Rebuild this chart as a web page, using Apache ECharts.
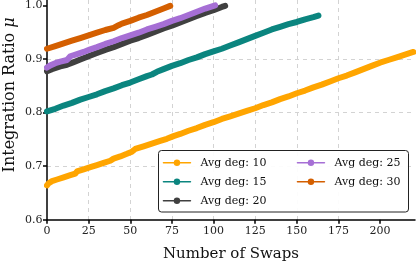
<!DOCTYPE html>
<html>
<head>
<meta charset="utf-8">
<script src="https://cdn.jsdelivr.net/npm/echarts@6/dist/echarts.min.js"></script>
<style>html,body{margin:0;padding:0;background:#fff;}#c{width:416px;height:262px;}</style>
</head>
<body>
<div id="c"></div>
<script>
// ---- data ----
const seriesNames = ['Avg deg: 10', 'Avg deg: 15', 'Avg deg: 20', 'Avg deg: 25', 'Avg deg: 30'];
const swaps10 = [0,1,3,6,10,14,17,18,22,26,30,34,38,40,44,48,51,53,58,63,68,72,76,80,85,90,95,100,105,110,115,120,125,130,135,140,145,150,155,160,165,170,175,180,185,190,195,200,205,210,215,220];
const ratio10 = [0.664,0.668,0.672,0.675,0.679,0.683,0.686,0.690,0.694,0.698,0.702,0.706,0.710,0.714,0.718,0.723,0.727,0.732,0.737,0.742,0.747,0.751,0.756,0.760,0.766,0.771,0.777,0.782,0.788,0.793,0.798,0.803,0.808,0.814,0.819,0.825,0.830,0.836,0.841,0.847,0.852,0.858,0.864,0.869,0.875,0.881,0.887,0.893,0.898,0.903,0.908,0.913];
const swaps15 = [0,5,10,15,20,25,30,35,40,45,50,55,60,63,66,70,75,80,85,90,95,100,105,110,115,120,125,130,135,140,145,150,155,160,163];
const ratio15 = [0.802,0.807,0.813,0.818,0.824,0.829,0.834,0.840,0.845,0.851,0.856,0.862,0.868,0.871,0.876,0.881,0.887,0.892,0.898,0.903,0.909,0.914,0.919,0.925,0.931,0.937,0.943,0.949,0.955,0.960,0.965,0.969,0.974,0.978,0.981];
const swaps20 = [0,3,8,12,16,20,25,30,35,40,45,50,55,60,65,70,75,80,85,90,95,100,105,107];
const ratio20 = [0.877,0.881,0.886,0.889,0.894,0.899,0.905,0.911,0.917,0.922,0.928,0.934,0.939,0.945,0.951,0.957,0.962,0.968,0.974,0.980,0.986,0.991,0.997,0.999];
const swaps25 = [0,2,5,8,12,14,18,22,26,30,35,40,45,50,55,60,65,70,75,80,85,90,95,101];
const ratio25 = [0.884,0.888,0.892,0.895,0.898,0.905,0.909,0.913,0.918,0.922,0.928,0.933,0.939,0.944,0.949,0.955,0.960,0.965,0.971,0.976,0.982,0.988,0.994,1.000];
const swaps30 = [0,5,10,15,20,25,30,35,40,43,45,50,55,60,65,70,74];
const ratio30 = [0.919,0.924,0.929,0.934,0.939,0.944,0.949,0.954,0.958,0.963,0.966,0.971,0.977,0.982,0.988,0.994,0.999];
const xTicks = [0,25,50,75,100,125,150,175,200];
const yTicks = [0.6,0.7,0.8,0.9,1.0];

const colors = ['#FFA500', '#0b857f', '#404040', '#a66fd5', '#d45f00'];
const allSwaps = [swaps10, swaps15, swaps20, swaps25, swaps30];
const allRatios = [ratio10, ratio15, ratio20, ratio25, ratio30];

const FONT = 'DejaVu Serif';
const chart = echarts.init(document.getElementById('c'), null, {renderer: 'canvas'});

const series = seriesNames.map((name, i) => ({
  name: name,
  type: 'line',
  data: allSwaps[i].map((s, k) => [s, allRatios[i][k]]),
  showSymbol: false,
  symbol: 'circle',
  symbolSize: 5,
  lineStyle: {width: 6, color: colors[i], cap: 'round', join: 'round'},
  itemStyle: {color: colors[i]},
  emphasis: {disabled: true},
  animation: false
}));

const legendCommon = {
  orient: 'vertical',
  padding: 0,
  itemWidth: 27,
  itemHeight: 8,
  itemGap: 7,
  top: 156.7,
  lineStyle: {width: 1.5},
  textStyle: {fontFamily: FONT, fontSize: 11, color: '#111', lineHeight: 12, padding: [0, 0, 0, 5]},
  selectedMode: false
};

chart.setOption({
  animation: false,
  backgroundColor: '#fff',
  grid: {left: 47, top: 0, width: 368, height: 219.7, containLabel: false, outerBoundsMode: 'none'},
  xAxis: {
    type: 'value', min: 0, max: 221, interval: 25,
    name: 'Number of Swaps', nameLocation: 'middle', nameGap: 27, nameMoveOverlap: false,
    nameTextStyle: {fontFamily: FONT, fontSize: 15, color: '#111'},
    axisLine: {show: true, onZero: false, lineStyle: {color: '#000', width: 1.5}},
    axisTick: {show: true, length: 4, lineStyle: {color: '#000', width: 1.5}, customValues: xTicks},
    axisLabel: {fontFamily: FONT, fontSize: 11, color: '#222', margin: 6, customValues: xTicks},
    splitLine: {show: true, showMinLine: false, showMaxLine: false, lineStyle: {color: '#d3d3d3', width: 1, type: [4, 4]}}
  },
  yAxis: {
    type: 'value', min: 0.6, max: 1.01, interval: 0.1,
    name: '{s|}Integration Ratio {i|μ}', nameLocation: 'middle', nameGap: 29, nameMoveOverlap: false,
    nameTextStyle: {fontFamily: FONT, fontSize: 16, color: '#111',
      rich: {
        s: {width: 30, fontSize: 16},
        i: {fontFamily: FONT, fontSize: 16, fontStyle: 'italic', color: '#111'}
      }},
    axisLine: {show: true, lineStyle: {color: '#000', width: 1.5}},
    axisTick: {show: true, length: 4, lineStyle: {color: '#000', width: 1.5}, customValues: yTicks},
    axisLabel: {fontFamily: FONT, fontSize: 11, color: '#222', margin: 4.5, customValues: yTicks,
      formatter: v => v.toFixed(1)},
    splitLine: {show: true, showMinLine: false, showMaxLine: false, lineStyle: {color: '#d3d3d3', width: 1, type: [4, 4]}}
  },
  legend: [
    Object.assign({}, legendCommon, {left: 162.7, data: seriesNames.slice(0, 3)}),
    Object.assign({}, legendCommon, {left: 296.7, data: seriesNames.slice(3)})
  ],
  graphic: [{
    type: 'rect', z: 3, silent: true,
    shape: {x: 158.5, y: 150.5, width: 250, height: 61.5, r: 3},
    style: {fill: 'rgba(255,255,255,0.92)', stroke: '#222', lineWidth: 1}
  }],
  series: series
});
</script>
</body>
</html>
